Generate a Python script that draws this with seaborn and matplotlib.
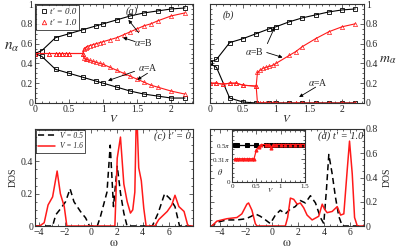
import numpy as np
import seaborn as sns
import matplotlib.pyplot as plt
from matplotlib.ticker import AutoMinorLocator
from matplotlib.lines import Line2D

# ---- panel (a)/(b) data, t' = 0 ----
V0 = [0, 0.1, 0.3, 0.5, 0.7, 0.9, 1.0, 1.2, 1.4, 1.6, 1.8, 2.0, 2.2]
nB0 = [0.5, 0.53, 0.66, 0.70, 0.74, 0.78, 0.80, 0.84, 0.88, 0.91, 0.93, 0.95, 0.96]
nA0 = [0.5, 0.47, 0.34, 0.30, 0.26, 0.22, 0.20, 0.16, 0.12, 0.09, 0.07, 0.05, 0.05]
mB0 = [0.41, 0.44, 0.61, 0.65, 0.70, 0.75, 0.77, 0.82, 0.86, 0.89, 0.92, 0.94, 0.95]
mA0 = [0.40, 0.36, 0.05, 0.01, 0.0, 0.0, 0.0, 0.0, 0.0, 0.0, 0.0, 0.0, 0.0]

# ---- t' = 1.0 ----
V1a = [0, 0.2, 0.3, 0.35, 0.4, 0.45, 0.5, 0.7,
       0.72, 0.74, 0.76, 0.8, 0.85, 0.9, 0.95, 1.0, 1.1, 1.2, 1.3, 1.4, 1.5, 1.6, 1.7, 1.8, 2.0, 2.2]
nB1 = [0.5, 0.5, 0.5, 0.5, 0.5, 0.5, 0.5, 0.5,
       0.55, 0.56, 0.57, 0.58, 0.59, 0.60, 0.61, 0.62, 0.64, 0.66, 0.69, 0.72, 0.75, 0.78, 0.80, 0.83, 0.88, 0.91]
nA1 = [0.5, 0.5, 0.5, 0.5, 0.5, 0.5, 0.5, 0.5,
       0.45, 0.44, 0.44, 0.43, 0.42, 0.41, 0.40, 0.39, 0.36, 0.33, 0.30, 0.27, 0.24, 0.21, 0.18, 0.16, 0.12, 0.09]

V1b = [0, 0.1, 0.2, 0.3, 0.4, 0.5, 0.7,
       0.72, 0.76, 0.8, 0.85, 0.9, 0.95, 1.0, 1.2, 1.3, 1.4, 1.6, 1.8, 2.0, 2.2]
mB1 = [0.2, 0.2, 0.19, 0.2, 0.2, 0.18, 0.17,
       0.31, 0.33, 0.35, 0.36, 0.37, 0.38, 0.40, 0.48, 0.52, 0.57, 0.65, 0.72, 0.77, 0.80]
mA1 = [0.2, 0.2, 0.19, 0.2, 0.2, 0.18, 0.17,
       0.0, 0.0, 0.0, 0.0, 0.0, 0.0, 0.0, 0.0, 0.0, 0.0, 0.0, 0.0, 0.0, 0.0]

# ---- panel (c) DOS, t' = 0 ----
wc_05 = [-4.3, -2.95, -2.7, -2.3, -1.95, -1.6, -1.3, -0.8, -0.4, -0.1, 0.5, 0.75, 1.25, 1.5,
         1.75, 2.04, 2.3, 2.55, 2.8, 4.75, 5.2, 5.7, 6.1, 6.5, 6.85, 7.9]
dc_05 = [0, 0, 0.07, 0.11, 0.15, 0.23, 0.15, 0.09, 0.05, 0, 0, 0.06, 0.21, 0.5,
         0.12, 0.37, 0.2, 0.08, 0, 0, 0.08, 0.2, 0.17, 0.12, 0, 0]
wc_16 = [-4.3, -3.95, -3.6, -3.3, -2.95, -2.6, -2.35, -2.05, -1.85, 1.86, 2.04, 2.29, 2.55,
         2.81, 3.06, 3.24, 3.4, 3.53, 3.7, 3.9, 4.09, 4.27, 4.95, 5.25, 5.9, 6.25, 6.5, 6.8,
         7.2, 7.5, 7.9]
dc_16 = [0, 0, 0.02, 0.13, 0.18, 0.34, 0.2, 0.12, 0, 0, 0.42, 0.55, 0.26,
         0.15, 0.08, 0.1, 0.21, 0.75, 0.36, 0.28, 0.11, 0, 0, 0.04, 0.09, 0.13, 0.19, 0.12,
         0.09, 0, 0]

# ---- panel (d) DOS, t' = 1.0 ----
wd_05 = [-4.8, -4.65, -4.26, -3.5, -2.7, -2.0, -1.6, -1.29, -0.9, -0.5, -0.13, 0.26, 0.64,
         1.03, 1.42, 1.8, 2.19, 2.58, 2.97, 3.36, 3.74, 4.0, 4.2, 4.39, 4.65, 4.9, 5.16, 5.43, 7.2]
dd_05 = [0, 0, 0.03, 0.05, 0.05, 0.06, 0.08, 0.1, 0.08, 0.05, 0.02, 0.09, 0.13,
         0.1, 0.14, 0.16, 0.21, 0.19, 0.25, 0.19, 0.07, 0.02, 0.29, 0.59, 0.43, 0.24, 0.08, 0, 0]
wd_16 = [-4.8, -4.65, -4.26, -3.49, -2.71, -2.33, -1.94, -1.81, -1.55, -1.29, -1.16, 1.03,
         1.21, 1.42, 1.68, 1.94, 2.19, 2.45, 2.71, 3.1, 3.61, 3.88, 4.05, 4.26, 4.65, 5.04,
         5.3, 5.55, 5.81, 5.99, 6.2, 6.38, 6.59, 7.2]
dd_16 = [0, 0, 0.04, 0.06, 0.07, 0.1, 0.18, 0.19, 0.13, 0.02, 0, 0,
         0.07, 0.23, 0.22, 0.18, 0.19, 0.15, 0.09, 0.05, 0.08, 0.18, 0.14, 0.11, 0.12, 0.16,
         0.09, 0.1, 0.46, 0.7, 0.43, 0.07, 0, 0]

# ---- inset: theta (units of pi) ----
thV0 = [0.05, 0.1, 0.3, 0.5, 0.7, 0.8, 0.9, 1.0, 1.1, 1.2, 1.3, 1.4, 1.5]
th0 = [0.5, 0.5, 0.5, 0.5, 0.5, 0.5, 0.5, 0.5, 0.5, 0.5, 0.5, 0.5, 0.5]
thV1 = [0.05, 0.1, 0.15, 0.2, 0.25, 0.3, 0.35, 0.4, 0.45, 0.5, 0.55, 0.6, 0.7, 0.75, 0.8,
        0.85, 0.9, 1.0, 1.1, 1.2, 1.3, 1.4, 1.5]
th1 = [0.31, 0.31, 0.31, 0.31, 0.31, 0.31, 0.31, 0.31, 0.31, 0.43, 0.47, 0.5, 0.5, 0.5, 0.46,
       0.5, 0.5, 0.5, 0.5, 0.5, 0.5, 0.5, 0.5]

RED = '#ff1a1a'

sns.set_style("ticks")
plt.rcParams['font.family'] = ['Liberation Serif', 'DejaVu Serif']
plt.rcParams['mathtext.fontset'] = 'stix'

fig = plt.figure(figsize=(3.99, 2.5), dpi=100)
axa = fig.add_axes([0.088, 0.588, 0.396, 0.396])
axb = fig.add_axes([0.526, 0.588, 0.386, 0.396])
axc = fig.add_axes([0.088, 0.096, 0.396, 0.388])
axd = fig.add_axes([0.526, 0.096, 0.386, 0.388])
axi = fig.add_axes([0.582, 0.272, 0.182, 0.21])


def style(ax, xmin=5, ymin=4, right=False, fs=7):
    ax.xaxis.set_minor_locator(AutoMinorLocator(xmin))
    ax.yaxis.set_minor_locator(AutoMinorLocator(ymin))
    ax.tick_params(which='both', direction='in', top=True, right=True,
                   labelsize=fs, pad=1.5, width=0.5)
    ax.tick_params(which='major', length=3)
    ax.tick_params(which='minor', length=1.5)
    if right:
        ax.yaxis.tick_right()
        ax.tick_params(which='both', left=True)
    for s in ax.spines.values():
        s.set_linewidth(0.8)
        s.set_color('#333333')


def sq(ax, x, y, c):
    sns.lineplot(x=x, y=y, ax=ax, color=c, lw=0.8, marker='s', markersize=3.2,
                 markerfacecolor='none', markeredgecolor=c, markeredgewidth=0.6,
                 estimator=None, sort=False)


def tri(ax, x, y, c):
    sns.lineplot(x=x, y=y, ax=ax, color=c, lw=0.8, marker='^', markersize=3.0,
                 markerfacecolor='none', markeredgecolor=c, markeredgewidth=0.5,
                 estimator=None, sort=False)


arrow = dict(arrowstyle='-|>', color='k', lw=0.6, mutation_scale=5, shrinkA=0, shrinkB=0)

# ---- (a) ----
sq(axa, V0, nB0, 'k')
sq(axa, V0, nA0, 'k')
tri(axa, V1a, nB1, RED)
tri(axa, V1a, nA1, RED)
axa.set_xlim(0, 2.32)
axa.set_ylim(0, 1)
axa.set_xticks([0, 0.5, 1, 1.5, 2], ['0', '0.5', '1', '1.5', '2'])
axa.set_yticks([0, 0.2, 0.4, 0.6, 0.8, 1], ['0', '0.2', '0.4', '0.6', '0.8', '1'])
style(axa)
axa.set_xlabel('$V$', fontsize=8, labelpad=-1)
axa.set_ylabel(r'$n_\alpha$', fontsize=11, rotation=0, labelpad=8, ha='center')
axa.yaxis.set_label_coords(-0.15, 0.5)
axa.text(0.57, 0.9, '(a)', transform=axa.transAxes, fontsize=7.5, style='italic')
axa.text(1.59, 0.61, r'$\alpha$=B', fontsize=7, ha='center', va='center')
axa.annotate('', xy=(1.37, 0.84), xytext=(1.52, 0.71), arrowprops=arrow)
axa.annotate('', xy=(1.29, 0.66), xytext=(1.47, 0.62), arrowprops=arrow)
axa.text(1.66, 0.36, r'$\alpha$=A', fontsize=7, ha='center', va='center')
axa.annotate('', xy=(1.07, 0.225), xytext=(1.46, 0.32), arrowprops=arrow)
axa.annotate('', xy=(1.5, 0.235), xytext=(1.65, 0.30), arrowprops=arrow)
h = [Line2D([], [], ls='none', marker='s', ms=3.2, mfc='none', mec='k', mew=0.6),
     Line2D([], [], ls='none', marker='^', ms=3.2, mfc='none', mec=RED, mew=0.6)]
leg = axa.legend(h, ["t' = 0.0", "t' = 1.0"], loc='upper left',
                 prop={'style': 'italic', 'size': 6.5}, frameon=True, fancybox=False,
                 borderaxespad=0.15, handletextpad=0.2, handlelength=1.0,
                 borderpad=0.3, labelspacing=0.25)
leg.get_frame().set_edgecolor('k')
leg.get_frame().set_linewidth(0.6)

# ---- (b) ----
sq(axb, V0, mB0, 'k')
sq(axb, V0, mA0, 'k')
tri(axb, V1b, mB1, RED)
tri(axb, V1b, mA1, RED)
axb.set_xlim(0, 2.33)
axb.set_ylim(0, 1)
axb.set_xticks([0, 0.5, 1, 1.5, 2], ['0', '0.5', '1', '1.5', '2'])
axb.set_yticks([0, 0.2, 0.4, 0.6, 0.8, 1], ['0', '0.2', '0.4', '0.6', '0.8', '1'])
style(axb, right=True)
axb.set_xlabel('$V$', fontsize=8, labelpad=-1)
axb.yaxis.set_label_position('right')
axb.set_ylabel(r'$m_\alpha$', fontsize=10, rotation=0, labelpad=8, ha='center')
axb.yaxis.set_label_coords(1.155, 0.5)
axb.text(0.08, 0.86, '(b)', transform=axb.transAxes, fontsize=7, style='italic')
axb.text(0.67, 0.52, r'$\alpha$=B', fontsize=7, ha='center', va='center')
axb.annotate('', xy=(0.98, 0.765), xytext=(0.87, 0.60), arrowprops=arrow)
axb.annotate('', xy=(1.1, 0.46), xytext=(0.86, 0.51), arrowprops=arrow)
axb.text(1.64, 0.21, r'$\alpha$=A', fontsize=7, ha='center', va='center')
axb.annotate('', xy=(1.35, 0.06), xytext=(1.6, 0.16), arrowprops=arrow)

# ---- (c) ----
sns.lineplot(x=wc_05, y=dc_05, ax=axc, color='k', lw=1.1, ls=(0, (4, 2.5)),
             estimator=None, sort=False, label='V = 0.5')
sns.lineplot(x=wc_16, y=dc_16, ax=axc, color=RED, lw=1.1,
             estimator=None, sort=False, label='V = 1.6')
axc.set_xlim(-4.3, 7.9)
axc.set_ylim(0, 0.6)
axc.set_xticks([-4, -2, 0, 2, 4, 6])
axc.set_yticks([0, 0.2, 0.4], ['0', '0.2', '0.4'])
style(axc, xmin=4, ymin=4)
axc.set_xlabel(r'$\mathrm{\omega}$', fontsize=9, labelpad=0)
axc.set_ylabel('DOS', fontsize=7, labelpad=2)
axc.text(0.985, 0.9, "(c) t' = 0", transform=axc.transAxes, fontsize=7.5,
         style='italic', ha='right')
leg = axc.legend(loc='upper left', prop={'style': 'italic', 'size': 5.5}, frameon=True,
                 fancybox=False, borderaxespad=0.1, handlelength=2.2, borderpad=0.3,
                 labelspacing=0.3, handletextpad=0.6)
leg.get_frame().set_edgecolor('k')
leg.get_frame().set_linewidth(0.6)

# ---- (d) ----
sns.lineplot(x=wd_05, y=dd_05, ax=axd, color='k', lw=1.1, ls=(0, (4, 2.5)),
             estimator=None, sort=False)
sns.lineplot(x=wd_16, y=dd_16, ax=axd, color=RED, lw=1.1, estimator=None, sort=False)
axd.set_xlim(-4.8, 7.1)
axd.set_ylim(0, 0.8)
axd.set_xticks([-4, -2, 0, 2, 4, 6])
axd.set_yticks([0, 0.2, 0.4, 0.6, 0.8], ['0', '0.2', '0.4', '0.6', '0.8'])
style(axd, xmin=4, ymin=4, right=True)
axd.set_xlabel(r'$\mathrm{\omega}$', fontsize=9, labelpad=0)
axd.yaxis.set_label_position('right')
axd.set_ylabel('DOS', fontsize=7, labelpad=3)
axd.text(0.995, 0.9, "(d) t' = 1.0", transform=axd.transAxes, fontsize=7.5,
         style='italic', ha='right')

# ---- inset ----
sns.lineplot(x=thV0, y=th0, ax=axi, color='k', lw=0.9, marker='s', markersize=2.2,
             markerfacecolor='k', markeredgecolor='k', estimator=None, sort=False)
sns.lineplot(x=thV1, y=th1, ax=axi, color=RED, lw=0.9, marker='^', markersize=2.2,
             markerfacecolor=RED, markeredgecolor=RED, estimator=None, sort=False)
axi.set_xlim(0, 1.5)
axi.set_ylim(0, 0.7)
axi.set_xticks([0, 0.5, 1, 1.5], ['0', '0.5', '1', '1.5'])
axi.set_yticks([0, 0.31, 0.5], ['0', r'0.31$\pi$', r'0.5$\pi$'])
style(axi, xmin=5, ymin=5, fs=5)
axi.set_facecolor('white')
axi.text(0.52, -0.19, '$V$', transform=axi.transAxes, fontsize=5, ha='center')
axi.text(-0.17, 0.14, r'$\theta$', transform=axi.transAxes, fontsize=6, ha='center')

fig.savefig('out.png', dpi=100)
